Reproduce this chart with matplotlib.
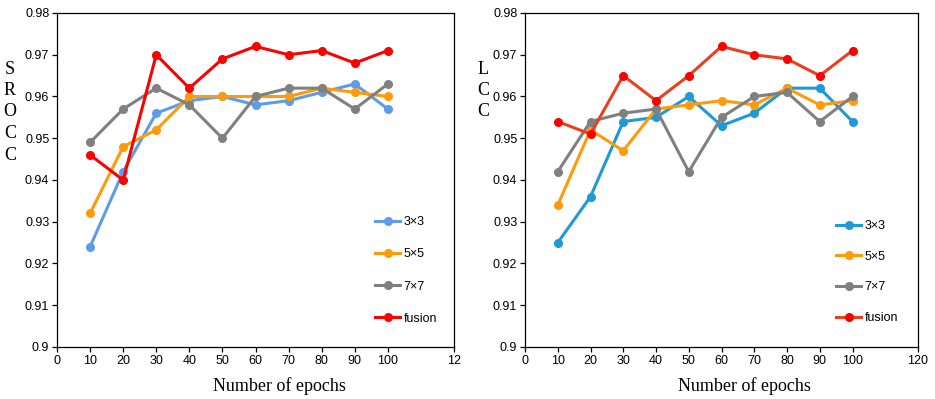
import numpy as np
import matplotlib
matplotlib.use("Agg")
import matplotlib.pyplot as plt

epochs = [10, 20, 30, 40, 50, 60, 70, 80, 90, 100]
series_names = ["3\u00d73", "5\u00d75", "7\u00d77", "fusion"]

srocc_3 = [0.924, 0.942, 0.956, 0.959, 0.960, 0.958, 0.959, 0.961, 0.963, 0.957]
srocc_5 = [0.932, 0.948, 0.952, 0.960, 0.960, 0.960, 0.960, 0.962, 0.961, 0.960]
srocc_7 = [0.949, 0.957, 0.962, 0.958, 0.950, 0.960, 0.962, 0.962, 0.957, 0.963]
srocc_f = [0.946, 0.940, 0.970, 0.962, 0.969, 0.972, 0.970, 0.971, 0.968, 0.971]

lcc_3 = [0.925, 0.936, 0.954, 0.955, 0.960, 0.953, 0.956, 0.962, 0.962, 0.954]
lcc_5 = [0.934, 0.952, 0.947, 0.957, 0.958, 0.959, 0.958, 0.962, 0.958, 0.959]
lcc_7 = [0.942, 0.954, 0.956, 0.957, 0.942, 0.955, 0.960, 0.961, 0.954, 0.960]
lcc_f = [0.954, 0.951, 0.965, 0.959, 0.965, 0.972, 0.970, 0.969, 0.965, 0.971]

x_ticks = [0, 10, 20, 30, 40, 50, 60, 70, 80, 90, 100, 120]
left_xlabels = ["0", "10", "20", "30", "40", "50", "60", "70", "80", "90", "100", "12"]
right_xlabels = ["0", "10", "20", "30", "40", "50", "60", "70", "80", "90", "100", "120"]
y_ticks = [0.9, 0.91, 0.92, 0.93, 0.94, 0.95, 0.96, 0.97, 0.98]
y_labels = ["0.9", "0.91", "0.92", "0.93", "0.94", "0.95", "0.96", "0.97", "0.98"]

W, H = 935, 399
fig = plt.figure(figsize=(W / 100, H / 100), dpi=100)

def px_axes(x0, y0, x1, y1):
    return fig.add_axes([x0 / W, 1 - y1 / H, (x1 - x0) / W, (y1 - y0) / H])

ax1 = px_axes(57, 13, 454, 347)
ax2 = px_axes(525, 13, 918, 347)

sans = "Liberation Sans"
serif = "Liberation Serif"

def draw(ax, data, colors, mcolors, xlabels, leg_pos, spacing):
    for vals, c, mc, name in zip(data, colors, mcolors, series_names):
        ax.plot(epochs, vals, color=c, lw=2.2, marker="o", ms=5.5,
                mfc=mc, mec=mc, label=name)
    ax.set_xlim(0, 120)
    ax.set_ylim(0.9, 0.98)
    ax.set_xticks(x_ticks)
    ax.set_xticklabels(xlabels, fontname=sans, fontsize=9)
    ax.set_yticks(y_ticks)
    ax.set_yticklabels(y_labels, fontname=sans, fontsize=9)
    ax.tick_params(direction="out", length=3.5, width=0.9, pad=2)
    for s in ax.spines.values():
        s.set_linewidth(0.9)
    ax.legend(loc="upper left", bbox_to_anchor=leg_pos, frameon=False,
              prop={"family": sans, "size": 9}, handlelength=2.0,
              handletextpad=0.3, labelspacing=spacing, borderaxespad=0)

draw(ax1, [srocc_3, srocc_5, srocc_7, srocc_f],
     ["#5c9ceb", "#ff9a0a", "#808080", "#ff0000"],
     ["#5c9ceb", "#ff9a0a", "#808080", "#ff0000"],
     left_xlabels, ((370 - 57) / 397, (347 - 211) / 334), 1.62)
draw(ax2, [lcc_3, lcc_5, lcc_7, lcc_f],
     ["#1e9ad6", "#ff9a0a", "#808080", "#ea4020"],
     ["#1e9ad6", "#ff9a0a", "#808080", "#ff0000"],
     right_xlabels, ((831 - 525) / 393, (347 - 215) / 334), 1.50)

for i, ch in enumerate("SROCC"):
    fig.text(10 / W, 1 - (69 + i * 21.5) / H, ch, fontname=serif, fontsize=13,
             ha="center", va="center")
for i, ch in enumerate("LCC"):
    fig.text(483 / W, 1 - (69 + i * 21.5) / H, ch, fontname=serif, fontsize=13,
             ha="center", va="center")

fig.text(279 / W, 1 - 386 / H, "Number of epochs", fontname=serif, fontsize=13,
         ha="center", va="center")
fig.text(744 / W, 1 - 386 / H, "Number of epochs", fontname=serif, fontsize=13,
         ha="center", va="center")

fig.savefig("out.png", dpi=100)
